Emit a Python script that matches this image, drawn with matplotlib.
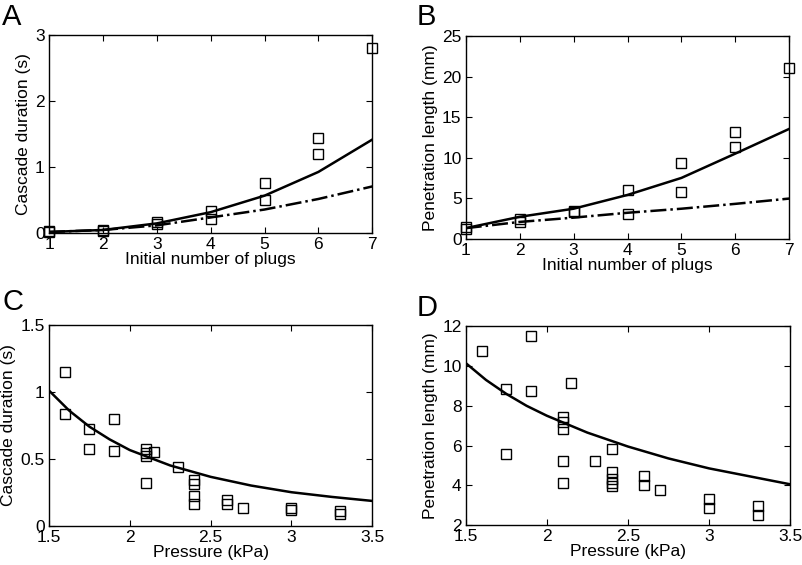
import numpy as np
import matplotlib
matplotlib.use('Agg')
import matplotlib.pyplot as plt

plt.rcParams['font.family'] = ['Liberation Sans', 'DejaVu Sans']
plt.rcParams['font.size'] = 12.5

# A : cascade duration vs initial number of plugs
a_x   = [1, 1, 2, 2, 3, 3, 4, 4, 5, 5, 6, 6, 7]
a_y   = [0.02, 0.03, 0.04, 0.05, 0.14, 0.17, 0.22, 0.34, 0.50, 0.76, 1.20, 1.44, 2.81]
n_fit = [1, 2, 3, 4, 5, 6, 7]
a_sol = [0.02, 0.05, 0.15, 0.32, 0.57, 0.93, 1.42]
a_dsh = [0.02, 0.05, 0.12, 0.24, 0.36, 0.52, 0.71]

# B : penetration length vs initial number of plugs
b_x   = [1, 1, 2, 2, 3, 3, 4, 4, 5, 5, 6, 6, 7]
b_y   = [1.24, 1.45, 2.07, 2.44, 3.26, 3.45, 3.06, 6.0, 5.7, 9.3, 11.25, 13.2, 21.0]
b_sol = [1.3, 2.7, 3.7, 5.4, 7.5, 10.5, 13.55]
b_dsh = [1.3, 2.07, 2.6, 3.2, 3.7, 4.3, 4.95]

# C : cascade duration vs pressure
c_x = [1.6, 1.6, 1.75, 1.75, 1.9, 1.9, 2.1, 2.1, 2.1, 2.1, 2.15, 2.3,
       2.4, 2.4, 2.4, 2.4, 2.6, 2.6, 2.7, 3.0, 3.0, 3.3, 3.3]
c_y = [1.145, 0.835, 0.72, 0.57, 0.80, 0.56, 0.57, 0.54, 0.52, 0.32, 0.55, 0.44,
       0.34, 0.31, 0.22, 0.165, 0.19, 0.16, 0.135, 0.13, 0.12, 0.11, 0.09]
p_fit = [1.5, 1.625, 1.75, 1.875, 2.0, 2.25, 2.5, 2.75, 3.0, 3.25, 3.5]
c_fit = [1.01, 0.86, 0.74, 0.645, 0.565, 0.45, 0.365, 0.30, 0.25, 0.215, 0.185]

# D : penetration length vs pressure
d_x = [1.6, 1.9, 1.75, 1.9, 2.15, 1.75, 2.1, 2.1, 2.1, 2.1, 2.1, 2.3,
       2.4, 2.4, 2.4, 2.4, 2.4, 2.6, 2.6, 2.7, 3.0, 3.0, 3.3, 3.3]
d_y = [10.74, 11.53, 8.85, 8.75, 9.14, 5.58, 7.43, 7.2, 6.84, 5.2, 4.11, 5.22,
       5.84, 4.66, 4.33, 4.11, 3.96, 4.45, 3.99, 3.74, 3.32, 2.87, 2.95, 2.52]
d_fit = [10.15, 9.3, 8.6, 8.0, 7.5, 6.65, 5.95, 5.35, 4.85, 4.45, 4.05]

fig = plt.figure(figsize=(8.02, 5.65), dpi=100)

axA = fig.add_axes([0.0611, 0.5871, 0.4031, 0.3504])
axB = fig.add_axes([0.5807, 0.5775, 0.4035, 0.3588])
axC = fig.add_axes([0.0611, 0.0696, 0.4031, 0.3552])
axD = fig.add_axes([0.5807, 0.0708, 0.4044, 0.3517])

sq = dict(marker='s', ls='none', ms=7, mfc='none', mec='black', mew=1.0, clip_on=False, zorder=3)

for ax in [axA, axB, axC, axD]:
    ax.tick_params(direction='in', top=True, right=True, length=4, width=0.8, pad=3)
    for s in ax.spines.values():
        s.set_linewidth(1.0)

# A
axA.plot(a_x, a_y, **sq)
axA.plot(n_fit, a_sol, 'k-', lw=1.8)
axA.plot(n_fit, a_dsh, 'k-.', lw=1.8)
axA.set_xlim(1, 7)
axA.set_ylim(0, 3)
axA.set_xticks(range(1, 8))
axA.set_yticks([0, 1, 2, 3])
axA.set_xlabel('Initial number of plugs', labelpad=0)
axA.set_ylabel('Cascade duration (s)', labelpad=3)

# B
axB.plot(b_x, b_y, **sq)
axB.plot(n_fit, b_sol, 'k-', lw=1.8)
axB.plot(n_fit, b_dsh, 'k-.', lw=1.8)
axB.set_xlim(1, 7)
axB.set_ylim(0, 25)
axB.set_xticks(range(1, 8))
axB.set_yticks([0, 5, 10, 15, 20, 25])
axB.set_xlabel('Initial number of plugs', labelpad=0)
axB.set_ylabel('Penetration length (mm)', labelpad=3)

# C
axC.plot(c_x, c_y, **sq)
axC.plot(p_fit, c_fit, 'k-', lw=1.8)
axC.set_xlim(1.5, 3.5)
axC.set_ylim(0, 1.5)
axC.set_xticks([1.5, 2, 2.5, 3, 3.5])
axC.set_xticklabels(['1.5', '2', '2.5', '3', '3.5'])
axC.set_yticks([0, 0.5, 1, 1.5])
axC.set_yticklabels(['0', '0.5', '1', '1.5'])
axC.set_xlabel('Pressure (kPa)', labelpad=0)
axC.set_ylabel('Cascade duration (s)', labelpad=3)

# D
axD.plot(d_x, d_y, **sq)
axD.plot(p_fit, d_fit, 'k-', lw=1.8)
axD.set_xlim(1.5, 3.5)
axD.set_ylim(2, 12)
axD.set_xticks([1.5, 2, 2.5, 3, 3.5])
axD.set_xticklabels(['1.5', '2', '2.5', '3', '3.5'])
axD.set_yticks([2, 4, 6, 8, 10, 12])
axD.set_xlabel('Pressure (kPa)', labelpad=0)
axD.set_ylabel('Penetration length (mm)', labelpad=3)

# panel letters
for lab, x, y in [('A', 0.003, 0.956), ('B', 0.519, 0.956), ('C', 0.003, 0.451), ('D', 0.519, 0.440)]:
    fig.text(x, y, lab, fontsize=21, va='baseline', ha='left')

fig.savefig('out.png', dpi=100)
